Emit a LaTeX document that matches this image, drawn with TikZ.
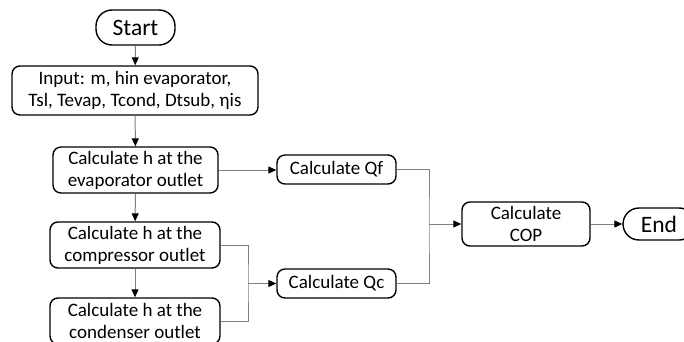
\documentclass[tikz,border=0pt]{standalone}
\usepackage{fontspec}
\setmainfont{Carlito}
\usetikzlibrary{arrows.meta}
\begin{document}
\begin{tikzpicture}[x=1pt,y=-1pt,
  box/.style={draw=black,line width=1.4pt,rounded corners=8pt,inner sep=0pt,align=center,
    font=\fontsize{19}{22}\selectfont},
  pill/.style={draw=black,line width=1.4pt,rounded corners=16pt,inner sep=0pt,align=center,
    font=\fontsize{23.5}{26}\selectfont},
  conn/.style={draw=black!50,line width=1pt,-{Triangle[length=8pt,width=7pt,color=black,fill=black]}},
  wire/.style={draw=black!50,line width=1pt}]
\useasboundingbox (0,0) rectangle (684,342);
\node[pill,minimum width=79,minimum height=35] (start) at (135.5,27.5) {Start};
\node[box,minimum width=246,minimum height=49] (input) at (135,90.5) {Input: m, hin evaporator,\\Tsl, Tevap, Tcond, Dtsub, ηis};
\node[box,minimum width=165,minimum height=46] (evap) at (135.5,170) {Calculate h at the\\evaporator outlet};
\node[box,minimum width=170,minimum height=46] (comp) at (135,245) {Calculate h at the\\compressor outlet};
\node[box,minimum width=170,minimum height=46] (cond) at (135,321) {Calculate h at the\\condenser outlet};
\node[box,minimum width=119,minimum height=29] (qf) at (336.5,169.5) {Calculate Qf};
\node[box,minimum width=119,minimum height=29] (qc) at (336.5,283.5) {Calculate Qc};
\node[box,minimum width=128,minimum height=44] (cop) at (526,224) {Calculate\\COP};
\node[pill,minimum width=72,minimum height=32] (end) at (659,224) {End};
\coordinate (jl) at (248,283.5);
\coordinate (jr) at (429,224);
\draw[conn] (start) -- (input);
\draw[conn] (input) -- (evap);
\draw[conn] (evap) -- (comp);
\draw[conn] (comp) -- (cond);
\draw[conn] (evap.east) -- (evap.east -| qf.west);
\draw[wire] (comp.east) -| (jl) |- (cond.east);
\draw[conn] (jl) -- (qc.west);
\draw[wire] (qf.east) -| (jr) |- (qc.east);
\draw[conn] (jr) -- (cop.west);
\draw[conn] (cop) -- (end);
\end{tikzpicture}
\end{document}
